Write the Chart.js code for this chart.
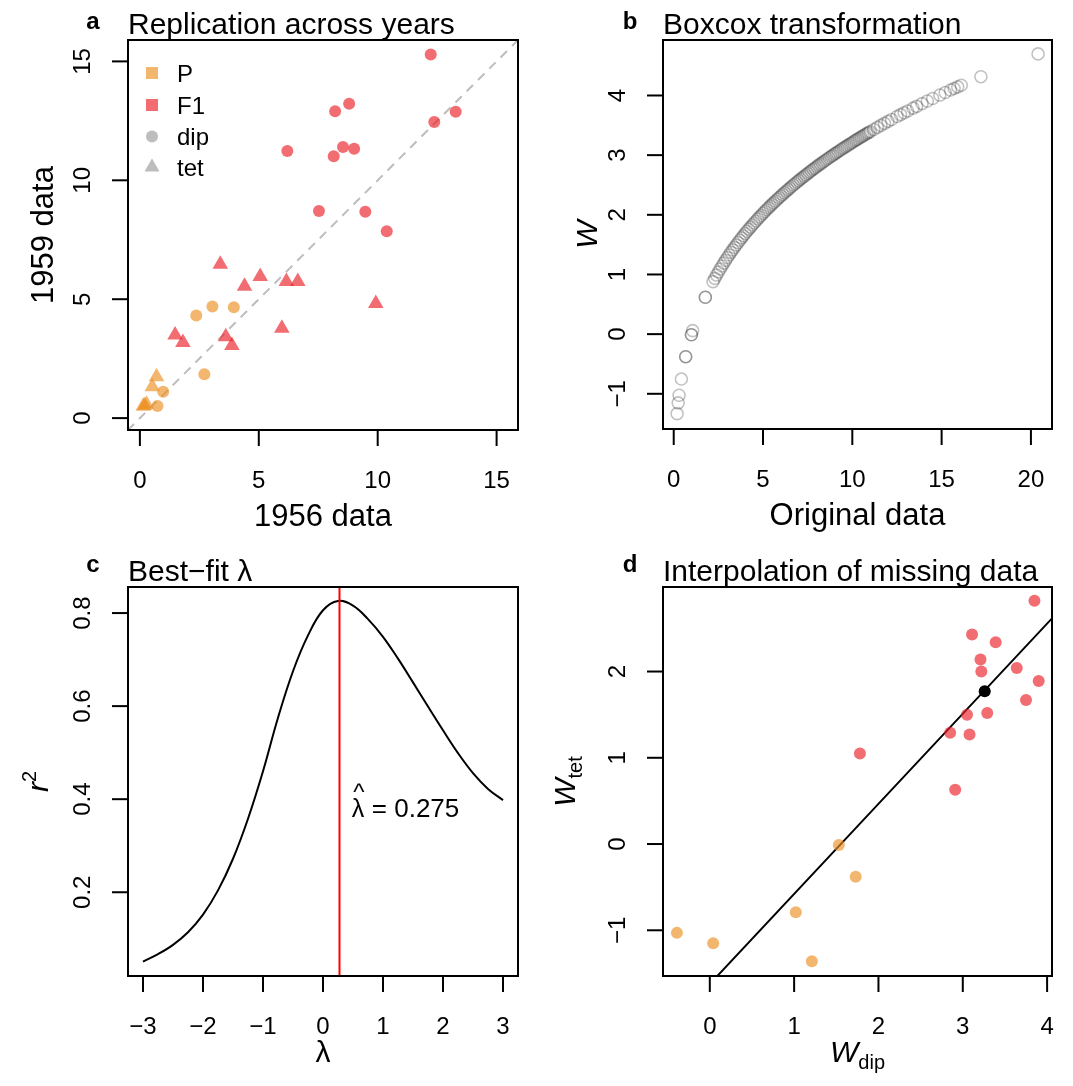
<!DOCTYPE html>
<html>
<head>
<meta charset="utf-8">
<script src="https://cdn.jsdelivr.net/npm/chart.js@4.4.1/dist/chart.umd.min.js"></script>
<style>
  body { margin: 0; background: #fff; }
  #wrap { position: relative; width: 1073px; height: 1086px; }
  canvas { position: absolute; }
</style>
</head>
<body>
<div id="wrap">
  <canvas id="pa" width="537" height="543" style="left:0;top:0"></canvas>
  <canvas id="pb" width="536" height="543" style="left:537px;top:0"></canvas>
  <canvas id="pc" width="537" height="543" style="left:0;top:543px"></canvas>
  <canvas id="pd" width="536" height="543" style="left:537px;top:543px"></canvas>
</div>
<script>
const FONT = '"Liberation Sans", Arial, Helvetica, sans-serif';

// --- a: 1956 vs 1959 values ---
const f1DipX56 = [12.23, 8.80, 8.21, 13.28, 12.38, 6.20, 8.54, 9.01, 8.15, 7.53, 9.48, 10.38];
const f1DipY59 = [15.29, 13.22, 12.90, 12.88, 12.45, 11.23, 11.40, 11.33, 11.01, 8.71, 8.68, 7.86];
const f1TetX56 = [3.38, 5.06, 4.40, 6.16, 6.64, 9.92, 5.97, 1.48, 1.81, 3.61, 3.87];
const f1TetY59 = [6.47, 5.95, 5.55, 5.74, 5.74, 4.82, 3.78, 3.50, 3.18, 3.42, 3.05];
const pDipX56 = [3.05, 3.95, 2.37, 2.71, 0.98, 0.74];
const pDipY59 = [4.69, 4.66, 4.31, 1.84, 1.11, 0.51];
const pTetX56 = [0.70, 0.52, 0.28, 0.14, 0.20];
const pTetY59 = [1.74, 1.32, 0.58, 0.50, 0.53];
const diagX = [-1, 17];
const diagY = [-1, 17];
const ticksA = [0, 5, 10, 15];

// --- b: original data and transformed W ---
const origData = [0.19, 0.25, 0.30, 0.43, 0.67, 0.67, 0.99, 0.99, 1.06, 1.77, 1.77,
  2.2, 2.3, 2.4, 2.5, 2.6, 2.7, 2.8, 2.9, 3.0, 3.1, 3.2, 3.3, 3.4, 3.5, 3.6, 3.7, 3.8, 3.9,
  4.0, 4.1, 4.2, 4.3, 4.4, 4.5, 4.6, 4.7, 4.8, 4.9, 5.0, 5.1, 5.2, 5.3, 5.4, 5.5, 5.6, 5.7, 5.8, 5.9,
  6.0, 6.1, 6.2, 6.3, 6.4, 6.5, 6.6, 6.7, 6.8, 6.9, 7.0, 7.1, 7.2, 7.3, 7.4, 7.5, 7.6, 7.7, 7.8, 7.9,
  8.0, 8.1, 8.2, 8.3, 8.4, 8.5, 8.6, 8.7, 8.8, 8.9, 9.0, 9.1, 9.2, 9.3, 9.4, 9.5, 9.6, 9.7, 9.8, 9.9,
  10.0, 10.1, 10.2, 10.3, 10.4, 10.5, 10.6, 10.7, 10.8, 10.9, 11.0, 11.2, 11.4, 11.6, 11.8, 12.0, 12.2,
  12.5, 12.7, 12.9, 13.1, 13.4, 13.6, 13.9, 14.2, 14.5, 14.9, 15.2, 15.5, 15.7, 15.9, 16.1,
  17.2, 20.4];
const wData = [-1.333, -1.152, -1.025, -0.753, -0.378, -0.378, -0.010, -0.010, 0.059, 0.618, 0.618,
  0.880, 0.935, 0.990, 1.041, 1.093, 1.142, 1.190, 1.236, 1.283, 1.327, 1.371, 1.413, 1.455, 1.495, 1.536, 1.574, 1.613, 1.650,
  1.688, 1.724, 1.760, 1.794, 1.829, 1.863, 1.896, 1.929, 1.961, 1.993, 2.025, 2.055, 2.086, 2.116, 2.146, 2.175, 2.204, 2.232, 2.260, 2.288,
  2.316, 2.343, 2.370, 2.396, 2.422, 2.448, 2.474, 2.499, 2.524, 2.549, 2.573, 2.598, 2.622, 2.645, 2.669, 2.692, 2.715, 2.738, 2.761, 2.783,
  2.806, 2.828, 2.850, 2.871, 2.893, 2.914, 2.935, 2.956, 2.977, 2.997, 3.018, 3.038, 3.058, 3.078, 3.098, 3.117, 3.137, 3.156, 3.175, 3.194,
  3.213, 3.232, 3.251, 3.269, 3.288, 3.306, 3.324, 3.342, 3.360, 3.378, 3.395, 3.430, 3.465, 3.499, 3.532, 3.566, 3.598,
  3.647, 3.679, 3.710, 3.741, 3.788, 3.818, 3.863, 3.907, 3.950, 4.007, 4.049, 4.091, 4.118, 4.145, 4.172,
  4.315, 4.697];
const xTicksB = [0, 5, 10, 15, 20];
const yTicksB = [-1, 0, 1, 2, 3, 4];

// --- c: r^2 against lambda ---
const lambdaGrid = [-3, -2.75, -2.5, -2.25, -2, -1.75, -1.5, -1.25, -1, -0.75, -0.5, -0.25,
  0, 0.25, 0.5, 0.75, 1, 1.25, 1.5, 1.75, 2, 2.25, 2.5, 2.75, 3];
const r2Fit = [0.051, 0.067, 0.087, 0.114, 0.152, 0.204, 0.272, 0.358, 0.460, 0.575, 0.675, 0.752,
  0.806, 0.826, 0.816, 0.787, 0.749, 0.702, 0.651, 0.599, 0.548, 0.499, 0.456, 0.422, 0.398];
const lambdaHat = 0.275;
const xTicksC = [-3, -2, -1, 0, 1, 2, 3];
const yTicksC = [0.2, 0.4, 0.6, 0.8];

// --- d: W_dip vs W_tet ---
const f1WDip = [3.85, 3.11, 3.39, 3.21, 3.22, 3.64, 3.90, 3.75, 3.05, 3.29, 2.85, 3.08, 1.78, 2.91];
const f1WTet = [2.82, 2.43, 2.34, 2.14, 2.00, 2.04, 1.89, 1.67, 1.50, 1.52, 1.29, 1.27, 1.05, 0.63];
const pWDip = [1.53, 1.73, 1.02, -0.39, 0.04, 1.21];
const pWTet = [-0.01, -0.38, -0.79, -1.03, -1.15, -1.36];
const missWDip = [3.26];
const missWTet = [1.77];
const fitX = [-0.6, 4.1];
const fitY = [-2.25, 2.66];
const xTicksD = [0, 1, 2, 3, 4];
const yTicksD = [-1, 0, 1, 2];

const P_COL = 'rgba(236,143,32,0.65)';
const F1_COL = 'rgba(235,30,38,0.65)';
const LEG_GREY = '#bdbdbd';

const zip = (xs, ys) => xs.map((x, i) => ({ x: x, y: ys[i] }));
const fmt = v => String(v).replace('-', '\u2212');

function richText(ctx, parts, x, y, rotated) {
  // parts: [text, font, dy]; centred on x (or y when rotated)
  let w = 0;
  parts.forEach(p => { ctx.font = p[1]; w += ctx.measureText(p[0]).width; });
  ctx.save();
  ctx.translate(x, y);
  if (rotated) ctx.rotate(-Math.PI / 2);
  ctx.textAlign = 'left';
  let cx = -w / 2;
  parts.forEach(p => {
    ctx.font = p[1];
    ctx.fillText(p[0], cx, p[2]);
    cx += ctx.measureText(p[0]).width;
  });
  ctx.restore();
}

// R-style box, outward ticks, rotated y labels and titles
function rAxes(cfg) {
  return {
    id: 'rAxes',
    afterDraw(chart) {
      const ctx = chart.ctx, a = chart.chartArea, sx = chart.scales.x, sy = chart.scales.y;
      ctx.save();
      ctx.strokeStyle = '#000';
      ctx.fillStyle = '#000';
      ctx.lineWidth = 2;
      ctx.strokeRect(a.left, a.top, a.right - a.left, a.bottom - a.top);
      ctx.font = '24px ' + FONT;
      ctx.textAlign = 'center';
      ctx.textBaseline = 'alphabetic';
      cfg.xTicks.forEach(v => {
        const px = sx.getPixelForValue(v);
        ctx.beginPath(); ctx.moveTo(px, a.bottom); ctx.lineTo(px, a.bottom + 16); ctx.stroke();
        ctx.fillText(fmt(v), px, a.bottom + 58);
      });
      cfg.yTicks.forEach(v => {
        const py = sy.getPixelForValue(v);
        ctx.beginPath(); ctx.moveTo(a.left - 16, py); ctx.lineTo(a.left, py); ctx.stroke();
        ctx.save();
        ctx.translate(a.left - 38, py);
        ctx.rotate(-Math.PI / 2);
        ctx.fillText(fmt(v), 0, 0);
        ctx.restore();
      });
      ctx.font = 'bold 24px ' + FONT;
      ctx.fillText(cfg.letter, 93, 29);
      ctx.font = '30px ' + FONT;
      ctx.textAlign = 'left';
      ctx.fillText(cfg.title, a.left, a.top - 6.5);
      cfg.extra(ctx, a, sx, sy);
      ctx.restore();
    }
  };
}

function makeChart(id, datasets, xr, yr, pad, axes) {
  return new Chart(document.getElementById(id), {
    type: 'scatter',
    data: { datasets: datasets },
    options: {
      responsive: false,
      animation: false,
      devicePixelRatio: 1,
      events: [],
      layout: { padding: pad },
      scales: {
        x: { type: 'linear', min: xr[0], max: xr[1], display: false },
        y: { type: 'linear', min: yr[0], max: yr[1], display: false }
      },
      plugins: { legend: { display: false }, tooltip: { enabled: false } }
    },
    plugins: [rAxes(axes)]
  });
}

const dots = (data, color, style, r) => ({
  data: data, pointStyle: style, pointRadius: r, pointBackgroundColor: color,
  pointBorderWidth: 0, pointBorderColor: 'rgba(0,0,0,0)', showLine: false
});
const line = (data, color, width, dash) => ({
  data: data, showLine: true, borderColor: color, borderWidth: width,
  borderDash: dash || [], pointRadius: 0, tension: 0.4
});

// a
makeChart('pa', [
  dots(zip(pDipX56, pDipY59), P_COL, 'circle', 6),
  dots(zip(pTetX56, pTetY59), P_COL, 'triangle', 9),
  dots(zip(f1DipX56, f1DipY59), F1_COL, 'circle', 6),
  dots(zip(f1TetX56, f1TetY59), F1_COL, 'triangle', 9),
  line(zip(diagX, diagY), '#bdbdbd', 2, [9, 7])
], [-0.5, 15.9], [-0.5, 15.9], { left: 128, top: 40, right: 19, bottom: 113 }, {
  letter: 'a', title: 'Replication across years', xTicks: ticksA, yTicks: ticksA,
  extra(ctx, a) {
    ctx.font = '31px ' + FONT;
    ctx.textAlign = 'center';
    ctx.fillText('1956 data', (a.left + a.right) / 2, a.bottom + 96);
    ctx.save();
    ctx.translate(a.left - 75, (a.top + a.bottom) / 2);
    ctx.rotate(-Math.PI / 2);
    ctx.fillText('1959 data', 0, 0);
    ctx.restore();
    // legend
    const lx = 152, rows = [73, 105, 136.5, 167];
    ctx.fillStyle = P_COL; ctx.fillRect(lx - 6, rows[0] - 6, 12, 12);
    ctx.fillStyle = F1_COL; ctx.fillRect(lx - 6, rows[1] - 6, 12, 12);
    ctx.fillStyle = LEG_GREY;
    ctx.beginPath(); ctx.arc(lx, rows[2], 6, 0, Math.PI * 2); ctx.fill();
    ctx.beginPath();
    ctx.moveTo(lx, rows[3] - 8.5); ctx.lineTo(lx + 7.5, rows[3] + 4.5); ctx.lineTo(lx - 7.5, rows[3] + 4.5);
    ctx.closePath(); ctx.fill();
    ctx.fillStyle = '#000';
    ctx.font = '24px ' + FONT;
    ctx.textAlign = 'left';
    ['P', 'F1', 'dip', 'tet'].forEach((t, i) => ctx.fillText(t, 177, rows[i] + 8.5));
  }
});

// b
makeChart('pb', [
  {
    data: zip(origData, wData), pointStyle: 'circle', pointRadius: 6,
    pointBackgroundColor: 'rgba(0,0,0,0)', pointBorderColor: 'rgba(0,0,0,0.24)',
    pointBorderWidth: 1.6, showLine: false
  }
], [-0.6, 21.18], [-1.59, 4.93], { left: 126, top: 40, right: 21, bottom: 114 }, {
  letter: 'b', title: 'Boxcox transformation', xTicks: xTicksB, yTicks: yTicksB,
  extra(ctx, a) {
    ctx.font = '31px ' + FONT;
    ctx.textAlign = 'center';
    ctx.fillText('Original data', (a.left + a.right) / 2, a.bottom + 96);
    richText(ctx, [['W', 'italic 30px ' + FONT, 0]], a.left - 66, (a.top + a.bottom) / 2, true);
  }
});

// c
makeChart('pc', [
  line(zip([lambdaHat, lambdaHat], [-1, 2]), '#ff0000', 2),
  line(zip(lambdaGrid, r2Fit), '#000', 2)
], [-3.25, 3.25], [0.02, 0.856], { left: 128, top: 44, right: 19, bottom: 110 }, {
  letter: 'c', title: 'Best\u2212fit \u03bb', xTicks: xTicksC, yTicks: yTicksC,
  extra(ctx, a, sx, sy) {
    ctx.font = '30px ' + FONT;
    ctx.textAlign = 'center';
    ctx.fillText('\u03bb', (a.left + a.right) / 2, a.bottom + 86);
    richText(ctx, [['r', 'italic 30px ' + FONT, 0], ['2', '20px ' + FONT, -12]],
      a.left - 80, (a.top + a.bottom) / 2, true);
    // annotation next to the red line
    const px = sx.getPixelForValue(0.48), py = sy.getPixelForValue(0.362);
    ctx.font = '25px ' + FONT;
    ctx.textAlign = 'left';
    ctx.fillText('\u03bb', px, py);
    ctx.textAlign = 'center';
    ctx.font = '24px ' + FONT;
    ctx.fillText('^', px + 7, py - 17);
    ctx.textAlign = 'left';
    ctx.font = '26px ' + FONT;
    ctx.fillText('= ' + lambdaHat.toFixed(3), px + 20, py);
  }
});

// d
makeChart('pd', [
  dots(zip(missWDip, missWTet), '#000', 'circle', 6),
  dots(zip(f1WDip, f1WTet), F1_COL, 'circle', 6),
  dots(zip(pWDip, pWTet), P_COL, 'circle', 6),
  line(zip(fitX, fitY), '#000', 2)
], [-0.555, 4.058], [-1.53, 2.98], { left: 126, top: 44, right: 21, bottom: 110 }, {
  letter: 'd', title: 'Interpolation of missing data', xTicks: xTicksD, yTicks: yTicksD,
  extra(ctx, a) {
    richText(ctx, [['W', 'italic 30px ' + FONT, 0], ['dip', '20px ' + FONT, 7]],
      (a.left + a.right) / 2, a.bottom + 86, false);
    richText(ctx, [['W', 'italic 30px ' + FONT, 0], ['tet', '20px ' + FONT, 7]],
      a.left - 88, (a.top + a.bottom) / 2, true);
  }
});
</script>
</body>
</html>
